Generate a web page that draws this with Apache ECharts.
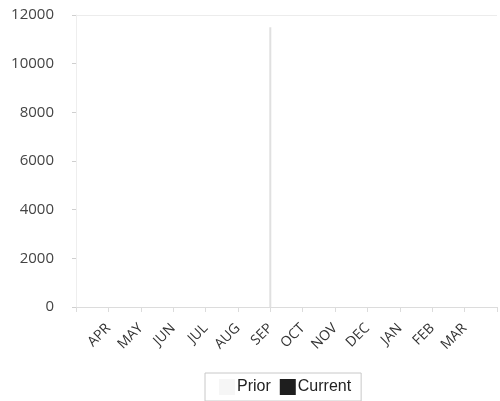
<!DOCTYPE html>
<html><head><meta charset="utf-8">
<script src="https://cdn.jsdelivr.net/npm/echarts@6/dist/echarts.min.js"></script>
<style>html,body{margin:0;padding:0;background:#fff}#c{width:500px;height:401px}</style>
</head><body><div id="c"></div>
<script>
var categories = ['', 'APR', 'MAY', 'JUN', 'JUL', 'AUG', 'SEP', 'OCT', 'NOV', 'DEC', 'JAN', 'FEB', 'MAR', ''];
var priorValues = [null, 0, 0, 0, 0, 0, 11500, 0, 0, 0, 0, 0, 0, null];
var currentValues = [null, 0, 0, 0, 0, 0, 0, 0, 0, 0, 0, 0, 0, null];
var yTicks = [0, 2000, 4000, 6000, 8000, 10000, 12000];

var chart = echarts.init(document.getElementById('c'));
chart.setOption({
  animation: false,
  backgroundColor: '#fff',
  grid: { left: 76, right: 3, top: 15, bottom: 94, containLabel: false },
  legend: {
    top: 373, left: 205,
    itemWidth: 16, itemHeight: 16, itemGap: 9,
    borderColor: '#c8c8c8', borderWidth: 1, padding: [6, 10, 6, 14],
    textStyle: { fontFamily: 'Liberation Sans', fontSize: 16, color: '#222', padding: [0, 0, 0, -3] },
    data: [
      { name: 'Prior', icon: 'rect', itemStyle: { color: '#f6f6f6', borderColor: '#f6f6f6' } },
      { name: 'Current', icon: 'rect', itemStyle: { color: '#1e1e1e' } }
    ]
  },
  xAxis: {
    type: 'category', data: categories, boundaryGap: false,
    axisLine: { lineStyle: { color: '#dcdcdc' } },
    axisTick: { show: true, length: 5, lineStyle: { color: '#dcdcdc' }, interval: 0 },
    axisLabel: { rotate: 45, interval: 0, margin: 19, fontFamily: 'Open Sans', fontSize: 14, color: '#333' },
    splitLine: { show: false }
  },
  yAxis: {
    type: 'value', min: yTicks[0], max: yTicks[yTicks.length - 1], interval: 2000,
    axisLine: { show: true, lineStyle: { color: '#eeeeee' } },
    axisTick: { show: true, length: 4, lineStyle: { color: '#cfcfcf' } },
    axisLabel: { margin: 22, fontFamily: 'Open Sans', fontSize: 15, color: '#444', formatter: function (v) { return String(v); } },
    splitLine: { show: true, lineStyle: { color: ['transparent','transparent','transparent','transparent','transparent','transparent','#ececec'] } }
  },
  series: [
    { name: 'Prior', type: 'bar', data: priorValues, barWidth: 2, barGap: '-100%',
      itemStyle: { color: '#e0e0e0' } },
    { name: 'Current', type: 'bar', data: currentValues, barWidth: 2,
      itemStyle: { color: '#1e1e1e' } }
  ]
});
</script></body></html>
